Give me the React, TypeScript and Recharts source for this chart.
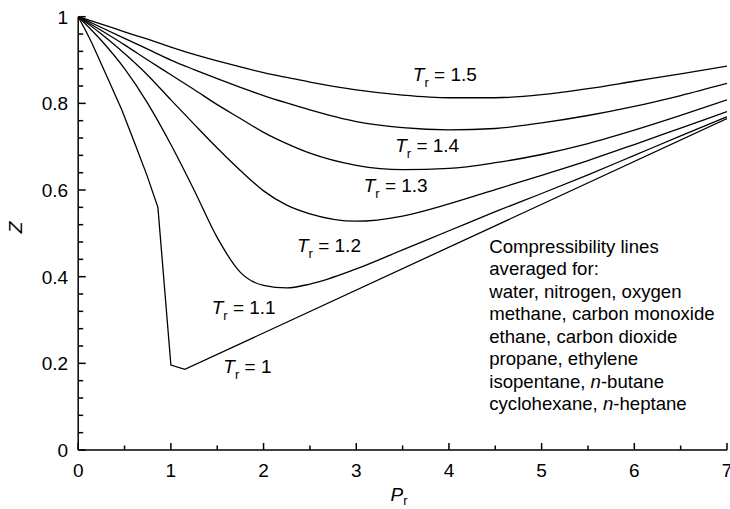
import {
  LineChart,
  Line,
  XAxis,
  YAxis,
  ReferenceDot,
} from "recharts";

const FONT = '"Liberation Sans", Arial, Helvetica, sans-serif';

// reduced pressure grid used by the smooth curves
const prSmooth = [0, 0.25, 0.5, 0.75, 1, 1.25, 1.5, 1.75, 2, 2.25, 2.5, 3, 3.5, 4, 4.5, 5, 5.5, 6, 6.5, 7];

const zTr15 = [1, 0.983, 0.965, 0.948, 0.93, 0.913, 0.898, 0.884, 0.871, 0.86, 0.849, 0.831, 0.819, 0.813, 0.813, 0.82, 0.834, 0.851, 0.868, 0.886];
const zTr14 = [1, 0.975, 0.95, 0.925, 0.9, 0.878, 0.857, 0.837, 0.818, 0.801, 0.785, 0.758, 0.744, 0.739, 0.742, 0.755, 0.772, 0.793, 0.818, 0.846];
const zTr13 = [1, 0.968, 0.935, 0.9, 0.866, 0.832, 0.797, 0.765, 0.733, 0.707, 0.685, 0.657, 0.647, 0.65, 0.663, 0.682, 0.707, 0.738, 0.772, 0.808];
const zTr12 = [1, 0.96, 0.915, 0.865, 0.808, 0.752, 0.697, 0.645, 0.598, 0.565, 0.545, 0.528, 0.54, 0.568, 0.601, 0.634, 0.668, 0.705, 0.743, 0.781];
const zTr11 = [1, 0.945, 0.88, 0.8, 0.705, 0.6, 0.49, 0.41, 0.38, 0.374, 0.383, 0.418, 0.462, 0.506, 0.55, 0.592, 0.635, 0.68, 0.725, 0.769];

// Tr = 1 is drawn as a broken line
const prTr1 = [0, 0.08, 0.15, 0.31, 0.47, 0.61, 0.74, 0.86, 1.0, 1.15, 7];
const zTr1 = [1, 0.968, 0.938, 0.862, 0.785, 0.708, 0.635, 0.56, 0.196, 0.186, 0.765];

const xTicks = [0, 0.5, 1, 1.5, 2, 2.5, 3, 3.5, 4, 4.5, 5, 5.5, 6, 6.5, 7];
const yTicks = [0, 0.04, 0.08, 0.12, 0.16, 0.2, 0.24, 0.28, 0.32, 0.36, 0.4, 0.44, 0.48, 0.52, 0.56, 0.6, 0.64, 0.68, 0.72, 0.76, 0.8, 0.84, 0.88, 0.92, 0.96, 1];

// curve labels: text and where the "T" starts
const curveLabels = ["1.5", "1.4", "1.3", "1.2", "1.1", "1"];
const labelPr = [3.61, 3.42, 3.08, 2.36, 1.44, 1.566];
const labelZ = [0.852, 0.688, 0.596, 0.458, 0.315, 0.178];

const noteLines = [
  "Compressibility lines",
  "averaged for:",
  "water, nitrogen, oxygen",
  "methane, carbon monoxide",
  "ethane, carbon dioxide",
  "propane, ethylene",
  "isopentane, |n|-butane",
  "cyclohexane, |n|-heptane",
];

const toRows = (xs: number[], zs: number[]) => xs.map((p, i) => ({ pr: p, z: zs[i] }));

const series = [
  { name: "1.5", data: toRows(prSmooth, zTr15), type: "monotone" },
  { name: "1.4", data: toRows(prSmooth, zTr14), type: "monotone" },
  { name: "1.3", data: toRows(prSmooth, zTr13), type: "monotone" },
  { name: "1.2", data: toRows(prSmooth, zTr12), type: "monotone" },
  { name: "1.1", data: toRows(prSmooth, zTr11), type: "monotone" },
  { name: "1", data: toRows(prTr1, zTr1), type: "linear" },
];

const isMajorX = (v: number) => Math.abs(v - Math.round(v)) < 1e-6;
const isMajorY = (v: number) => Math.abs(v * 5 - Math.round(v * 5)) < 1e-6;
const fmtY = (v: number) => String(Number(v.toFixed(1)));

const BottomTick = (props: any) => {
  const { x, y, payload } = props;
  const major = isMajorX(payload.value);
  return (
    <g>
      <line x1={x} x2={x} y1={y} y2={y - (major ? 7 : 4.5)} stroke="#000" strokeWidth={1.5} />
      {major && (
        <text x={x} y={y + 27} textAnchor="middle" fontSize={19} fontFamily={FONT} fill="#000">
          {payload.value}
        </text>
      )}
    </g>
  );
};

const TopTick = (props: any) => {
  const { x, y, payload } = props;
  const major = isMajorX(payload.value);
  return <line x1={x} x2={x} y1={y} y2={y + (major ? 7 : 4.5)} stroke="#000" strokeWidth={1.5} />;
};

const LeftTick = (props: any) => {
  const { x, y, payload } = props;
  const major = isMajorY(payload.value);
  return (
    <g>
      <line x1={x} x2={x + (major ? 7.5 : 5)} y1={y} y2={y} stroke="#000" strokeWidth={1.5} />
      {major && (
        <text x={x - 10} y={y + 7} textAnchor="end" fontSize={19} fontFamily={FONT} fill="#000">
          {fmtY(payload.value)}
        </text>
      )}
    </g>
  );
};

const RightTick = (props: any) => {
  const { x, y, payload } = props;
  const major = isMajorY(payload.value);
  return <line x1={x} x2={x - (major ? 7.5 : 5)} y1={y} y2={y} stroke="#000" strokeWidth={1.5} />;
};

const TrLabel = ({ cx, cy, value }: any) => (
  <text x={cx} y={cy} fontSize={19} fontFamily={FONT} fill="#000">
    <tspan fontStyle="italic">T</tspan>
    <tspan fontSize={13} dy={6}>r</tspan>
    <tspan dy={-6}>{"\u00a0=\u00a0" + value}</tspan>
  </text>
);

const NoteBlock = ({ cx, cy }: any) => (
  <text x={cx} y={cy} fontSize={18.6} fontFamily={FONT} fill="#000">
    {noteLines.map((line, i) => (
      <tspan key={i} x={cx} dy={i === 0 ? 0 : 22.5}>
        {line.split("|").map((part, j) => (
          <tspan key={j} fontStyle={j === 1 ? "italic" : "normal"}>
            {part}
          </tspan>
        ))}
      </tspan>
    ))}
  </text>
);

export default function App() {
  return (
    <div style={{ position: "absolute", left: 0, top: 0, width: 730, height: 509, background: "#fff" }}>
      <LineChart width={730} height={509} margin={{ top: 16.7, right: 3, left: 18.2, bottom: 29 }}>
        <XAxis
          xAxisId="b"
          type="number"
          dataKey="pr"
          domain={[0, 7]}
          ticks={xTicks}
          interval={0}
          height={30}
          tickSize={0}
          tickMargin={0}
          tickLine={false}
          tick={<BottomTick />}
          axisLine={{ stroke: "#000", strokeWidth: 1.5 }}
          allowDataOverflow
          label={{
            content: (p: any) => {
              const vb = p.viewBox;
              return (
                <text x={vb.x + vb.width / 2 - 12} y={vb.y + 51} fontSize={19} fontFamily={FONT} fill="#000">
                  <tspan fontStyle="italic">P</tspan>
                  <tspan fontSize={13} dy={4}>r</tspan>
                </text>
              );
            },
          }}
        />
        <XAxis
          xAxisId="t"
          orientation="top"
          type="number"
          dataKey="pr"
          domain={[0, 7]}
          ticks={xTicks}
          interval={0}
          height={0}
          tickSize={0}
          tickMargin={0}
          tickLine={false}
          tick={<TopTick />}
          axisLine={{ stroke: "#000", strokeWidth: 1.5 }}
          allowDataOverflow
        />
        <YAxis
          yAxisId="l"
          type="number"
          domain={[0, 1]}
          ticks={yTicks}
          interval={0}
          width={60}
          tickSize={0}
          tickMargin={0}
          tickLine={false}
          tick={<LeftTick />}
          axisLine={{ stroke: "#000", strokeWidth: 1.5 }}
          allowDataOverflow
          label={{
            content: (p: any) => {
              const vb = p.viewBox;
              const x = vb.x + 3.5;
              const y = vb.y + vb.height / 2 - 6;
              return (
                <text
                  x={x}
                  y={y}
                  transform={`rotate(-90 ${x} ${y})`}
                  textAnchor="middle"
                  fontSize={19}
                  fontStyle="italic"
                  fontFamily={FONT}
                  fill="#000"
                >
                  Z
                </text>
              );
            },
          }}
        />
        <YAxis
          yAxisId="r"
          orientation="right"
          type="number"
          domain={[0, 1]}
          ticks={yTicks}
          interval={0}
          width={0}
          tickSize={0}
          tickMargin={0}
          tickLine={false}
          tick={<RightTick />}
          axisLine={{ stroke: "#000", strokeWidth: 1.5 }}
          allowDataOverflow
        />
        {series.map((s) => (
          <Line
            key={s.name}
            xAxisId="b"
            yAxisId="l"
            data={s.data}
            dataKey="z"
            type={s.type as any}
            stroke="#000"
            strokeWidth={1.3}
            dot={false}
            activeDot={false}
            isAnimationActive={false}
          />
        ))}
        {curveLabels.map((t, i) => (
          <ReferenceDot
            key={t}
            xAxisId="b"
            yAxisId="l"
            x={labelPr[i]}
            y={labelZ[i]}
            r={0}
            shape={(p: any) => <TrLabel cx={p.cx} cy={p.cy} value={t} />}
          />
        ))}
        <ReferenceDot
          xAxisId="b"
          yAxisId="l"
          x={4.435}
          y={0.455}
          r={0}
          shape={(p: any) => <NoteBlock cx={p.cx} cy={p.cy} />}
        />
      </LineChart>
    </div>
  );
}
